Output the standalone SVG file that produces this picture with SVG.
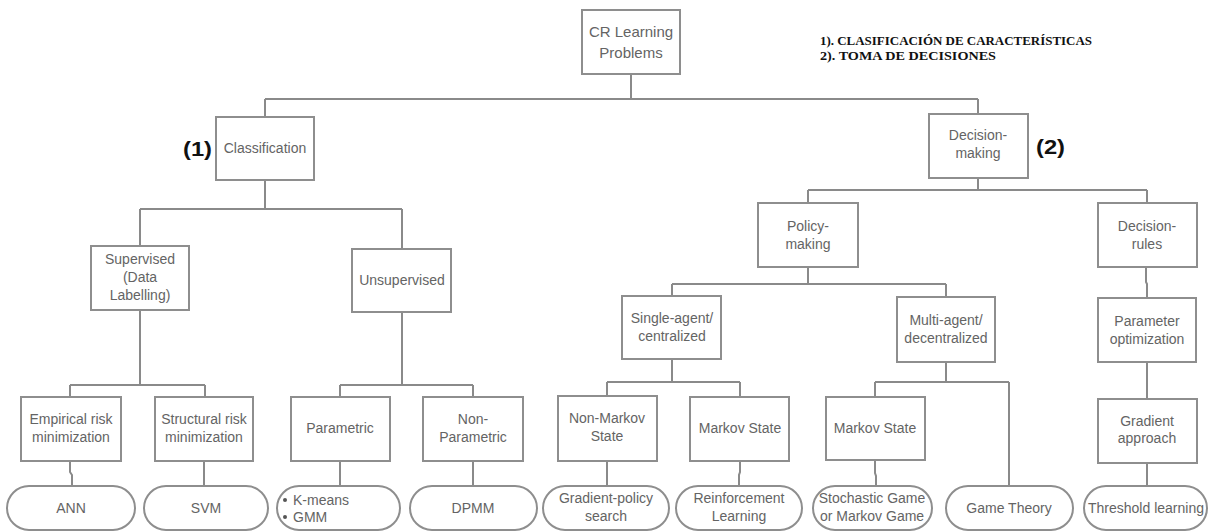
<svg xmlns="http://www.w3.org/2000/svg" width="1213" height="532" viewBox="0 0 1213 532">
<style>
.box{fill:#fff;stroke:#8e8e8e;stroke-width:2}
.pill{fill:#fff;stroke:#8e8e8e;stroke-width:2}
.t{font-family:"Liberation Sans",Arial,sans-serif;font-size:14px;fill:#646464;text-anchor:middle}
.big{font-size:15px}
.lbl{font-family:"Liberation Sans",Arial,sans-serif;font-size:21px;font-weight:bold;fill:#111}
.note{font-family:"Liberation Serif","Times New Roman",serif;font-size:12.5px;font-weight:bold;fill:#111}
#connectors path{fill:none;stroke:#8a8a8a;stroke-width:2}
</style>
<rect width="1213" height="532" fill="#fff"/>
<g id="connectors">
<path d="M631 74V99M265 99H978M265 99V117M978 99V114"/>
<path d="M265 180V209M140 209H402M140 209V246M402 209V249"/>
<path d="M140 310V385M70 385H205M70 385V397M205 385V397"/>
<path d="M402 312V385M340 385H473M340 385V397M473 385V397"/>
<path d="M978 178V190M808 190H1147M808 190V203M1147 190V203"/>
<path d="M808 267V284M672 284H946M672 284V296M946 284V297"/>
<path d="M1146 267V282L1147 284V298"/>
<path d="M672 359V382M607 382H740M607 382V396M740 382V397"/>
<path d="M946 362V382M875 382H1009M875 382V397M1009 382V486"/>
<path d="M1147 362V399"/>
<path d="M70 461V472L72 475V486M204 461V486M340 461V486M473 461V486M607 461V486M740 461V472L739 475V486M875 460V473L876 476V486M1147 463V486"/>
</g>
<g id="note">
<text class="note" x="820" y="45" textLength="272" lengthAdjust="spacingAndGlyphs">1). CLASIFICACIÓN DE CARACTERÍSTICAS</text>
<text class="note" x="820" y="60" textLength="176" lengthAdjust="spacingAndGlyphs">2). TOMA DE DECISIONES</text>
</g>
<g id="label1"><text class="lbl" x="183" y="156" textLength="29" lengthAdjust="spacingAndGlyphs">(1)</text></g>
<g id="label2"><text class="lbl" x="1036" y="154" textLength="29" lengthAdjust="spacingAndGlyphs">(2)</text></g>
<g id="n-cr"><rect class="box" x="582" y="10" width="98" height="64"/><text class="t big" x="631" y="37">CR Learning</text><text class="t big" x="631" y="58">Problems</text></g>
<g id="n-class"><rect class="box" x="216" y="117" width="98" height="63"/><text class="t" x="265" y="153">Classification</text></g>
<g id="n-dec"><rect class="box" x="929" y="114" width="99" height="64"/><text class="t" x="978" y="140">Decision-</text><text class="t" x="978" y="158">making</text></g>
<g id="n-sup"><rect class="box" x="91" y="246" width="98" height="64"/><text class="t" x="140" y="264">Supervised</text><text class="t" x="140" y="282">(Data</text><text class="t" x="140" y="300">Labelling)</text></g>
<g id="n-unsup"><rect class="box" x="352" y="249" width="99" height="63"/><text class="t" x="402" y="285">Unsupervised</text></g>
<g id="n-policy"><rect class="box" x="758" y="203" width="100" height="64"/><text class="t" x="808" y="231">Policy-</text><text class="t" x="808" y="249">making</text></g>
<g id="n-rules"><rect class="box" x="1098" y="203" width="99" height="64"/><text class="t" x="1147" y="231">Decision-</text><text class="t" x="1147" y="249">rules</text></g>
<g id="n-single"><rect class="box" x="622" y="296" width="99" height="63"/><text class="t" x="672" y="323">Single-agent/</text><text class="t" x="672" y="341">centralized</text></g>
<g id="n-multi"><rect class="box" x="897" y="297" width="98" height="65"/><text class="t" x="946" y="325">Multi-agent/</text><text class="t" x="946" y="343">decentralized</text></g>
<g id="n-param-opt"><rect class="box" x="1098" y="298" width="98" height="64"/><text class="t" x="1147" y="326">Parameter</text><text class="t" x="1147" y="344">optimization</text></g>
<g id="n-emp"><rect class="box" x="21" y="397" width="100" height="64"/><text class="t" x="71" y="424">Empirical risk</text><text class="t" x="71" y="442">minimization</text></g>
<g id="n-struct"><rect class="box" x="155" y="397" width="98" height="64"/><text class="t" x="204" y="424">Structural risk</text><text class="t" x="204" y="442">minimization</text></g>
<g id="n-parametric"><rect class="box" x="291" y="397" width="99" height="64"/><text class="t" x="340" y="433">Parametric</text></g>
<g id="n-nonparam"><rect class="box" x="423" y="397" width="100" height="64"/><text class="t" x="473" y="424">Non-</text><text class="t" x="473" y="442">Parametric</text></g>
<g id="n-nonmarkov"><rect class="box" x="558" y="396" width="99" height="65"/><text class="t" x="607" y="423">Non-Markov</text><text class="t" x="607" y="441">State</text></g>
<g id="n-markov1"><rect class="box" x="690" y="397" width="99" height="64"/><text class="t" x="740" y="433">Markov State</text></g>
<g id="n-markov2"><rect class="box" x="826" y="397" width="99" height="63"/><text class="t" x="875" y="433">Markov State</text></g>
<g id="n-gradient"><rect class="box" x="1098" y="399" width="99" height="64"/><text class="t" x="1147" y="426">Gradient</text><text class="t" x="1147" y="443">approach</text></g>
<g id="p-ann"><rect class="pill" x="7" y="486" width="128" height="44" rx="22"/><text class="t" x="71" y="513">ANN</text></g>
<g id="p-svm"><rect class="pill" x="144" y="486" width="124" height="44" rx="22"/><text class="t" x="206" y="513">SVM</text></g>
<g id="p-kmeans"><rect class="pill" x="277" y="486" width="123" height="44" rx="22"/><circle cx="285" cy="500" r="2" fill="#555"/><circle cx="285" cy="517" r="2" fill="#555"/><text class="t" x="293" y="505" style="text-anchor:start">K-means</text><text class="t" x="293" y="522" style="text-anchor:start">GMM</text></g>
<g id="p-dpmm"><rect class="pill" x="410" y="486" width="127" height="44" rx="22"/><text class="t" x="473" y="513">DPMM</text></g>
<g id="p-gps"><rect class="pill" x="543" y="486" width="126" height="44" rx="22"/><text class="t" x="606" y="503">Gradient-policy</text><text class="t" x="606" y="521">search</text></g>
<g id="p-rl"><rect class="pill" x="676" y="486" width="126" height="44" rx="22"/><text class="t" x="739" y="503">Reinforcement</text><text class="t" x="739" y="521">Learning</text></g>
<g id="p-sg"><rect class="pill" x="813" y="486" width="119" height="44" rx="22"/><text class="t" x="872" y="503">Stochastic Game</text><text class="t" x="872" y="521">or Markov Game</text></g>
<g id="p-gt"><rect class="pill" x="946" y="486" width="127" height="44" rx="22"/><text class="t" x="1009" y="513">Game Theory</text></g>
<g id="p-tl"><rect class="pill" x="1084" y="486" width="123" height="44" rx="22"/><text class="t" x="1146" y="513">Threshold learning</text></g>
</svg>
